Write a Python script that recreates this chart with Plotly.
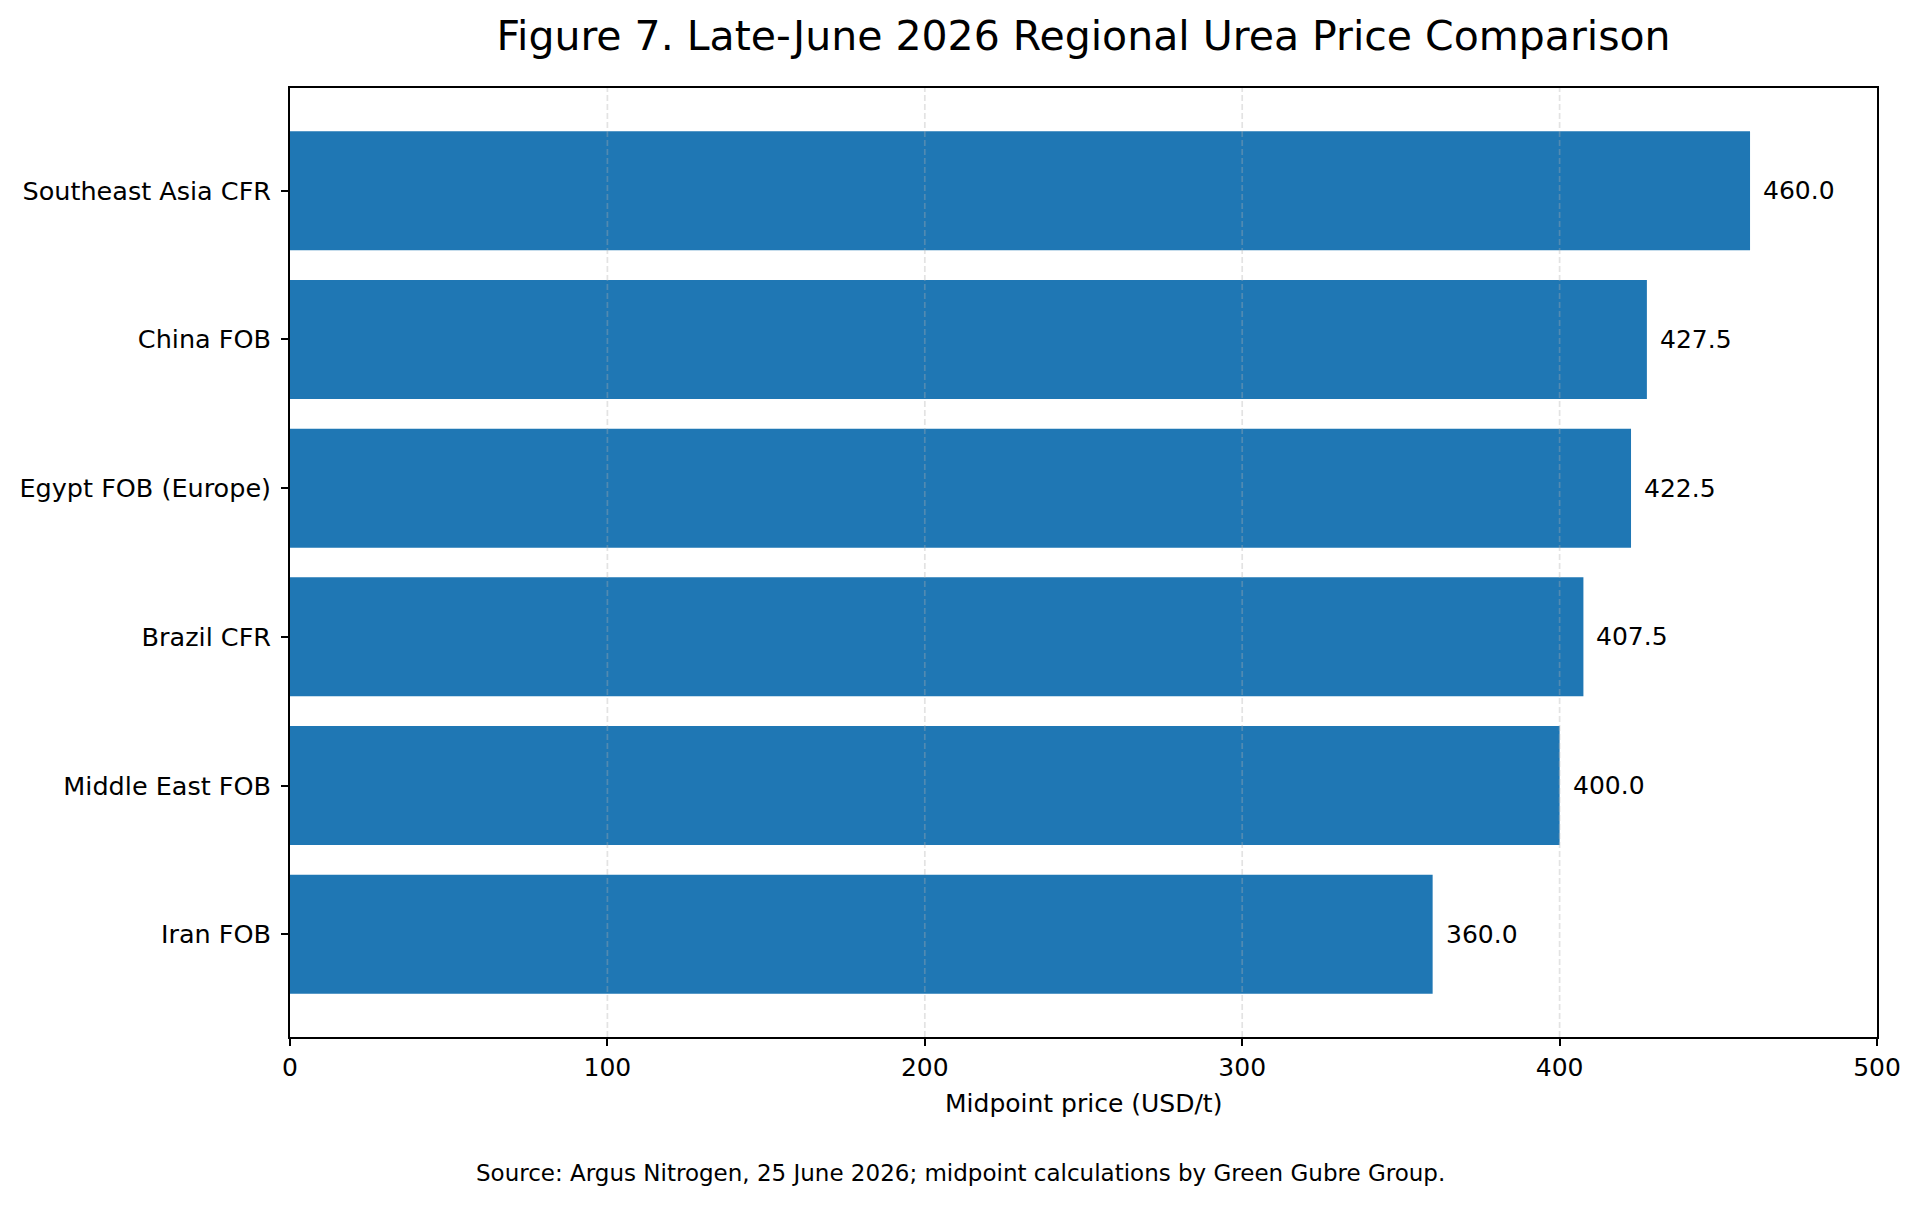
import plotly.graph_objects as go

categories = ["Iran FOB", "Middle East FOB", "Brazil CFR", "Egypt FOB (Europe)", "China FOB", "Southeast Asia CFR"]
prices = [360.0, 400.0, 407.5, 422.5, 427.5, 460.0]
x_ticks = [0, 100, 200, 300, 400, 500]

title_text = "Figure 7. Late-June 2026 Regional Urea Price Comparison"
x_title = "Midpoint price (USD/t)"
source_text = "Source: Argus Nitrogen, 25 June 2026; midpoint calculations by Green Gubre Group."

FONT = "DejaVu Sans"
W, H = 1920, 1205
ML, MR, MT, MB = 290, 43, 88, 168
plot_center = ML + (W - ML - MR) / 2

fig = go.Figure()
fig.add_trace(go.Bar(
    y=categories, x=prices, orientation="h",
    marker=dict(color="#1f77b4", line=dict(width=0)),
    width=0.8, hoverinfo="x+y", showlegend=False,
))

annotations = []
for c, v in zip(categories, prices):
    annotations.append(dict(
        x=v, y=c, xref="x", yref="y", text=f"{v:.1f}", showarrow=False,
        xanchor="left", yanchor="middle", xshift=11,
        font=dict(family=FONT, size=25, color="black"),
    ))
annotations.append(dict(
    x=0.5, y=0, xref="paper", yref="paper", text=x_title, showarrow=False,
    xanchor="center", yanchor="middle", yshift=-66,
    font=dict(family=FONT, size=25, color="black"),
))
annotations.append(dict(
    x=0.5, y=0, xref="paper", yref="paper", text=source_text, showarrow=False,
    xanchor="center", yanchor="middle", yshift=-136, xshift=W / 2 - plot_center,
    font=dict(family=FONT, size=23, color="black"),
))

shapes = []
for t in x_ticks[1:-1]:
    shapes.append(dict(
        type="line", xref="x", yref="paper", x0=t, x1=t, y0=0, y1=1,
        layer="above", line=dict(color="rgba(176,176,176,0.35)", width=1.7, dash="6px,3px"),
    ))

fig.update_layout(
    width=W, height=H,
    margin=dict(l=ML, r=MR, t=MT, b=MB),
    paper_bgcolor="white", plot_bgcolor="white",
    font=dict(family=FONT, size=25, color="black"),
    title=dict(text=title_text, x=0.5, xref="paper", xanchor="center", y=1 - 36 / H, yanchor="middle",
               yref="container", font=dict(family=FONT, size=41, color="black")),
    annotations=annotations, shapes=shapes,
    bargap=0.2,
)
fig.update_xaxes(
    range=[0, 500], tickvals=x_ticks, ticktext=[str(t) for t in x_ticks],
    showgrid=False, zeroline=False,
    showline=True, linecolor="black", linewidth=1.7, mirror=True,
    ticks="outside", ticklen=7, tickwidth=1.7, tickcolor="black",
    tickfont=dict(family=FONT, size=25, color="black"),
)
fig.update_yaxes(
    type="category", categoryorder="array", categoryarray=categories,
    range=[-0.69, 5.69], showgrid=False, zeroline=False,
    showline=True, linecolor="black", linewidth=1.7, mirror=True,
    ticks="outside", ticklen=7, tickwidth=1.7, tickcolor="black",
    tickfont=dict(family=FONT, size=25.5, color="black"),
    ticklabelstandoff=5,
)

fig.write_html("out.html")
